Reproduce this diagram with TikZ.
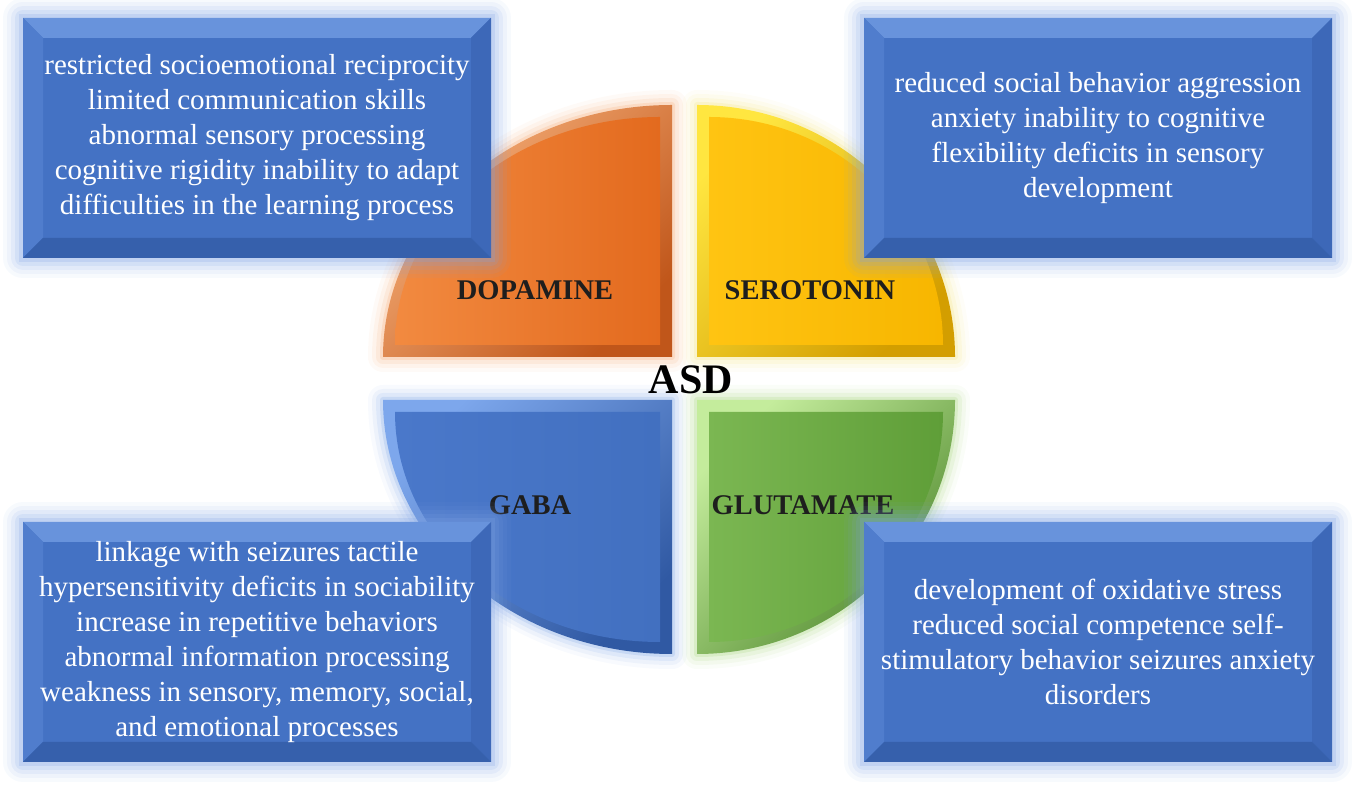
\documentclass[tikz,border=0pt]{standalone}
\usepackage{fontspec}
\setmainfont{Liberation Serif}
\newfontfamily\bodyfont{Liberation Serif}
\usetikzlibrary{positioning}
% box colours
\definecolor{boxblue}{HTML}{4472C4}
\definecolor{boxglow}{HTML}{7FA3E4}
\definecolor{boxhi}{HTML}{6893DC}
\definecolor{boxlf}{HTML}{507DCD}
\definecolor{boxrt}{HTML}{3D68B8}
\definecolor{boxlo}{HTML}{3660AC}
\definecolor{labelgray}{HTML}{1E1E1E}
% quadrant colours
\definecolor{glowdopa}{HTML}{F4A062}
\definecolor{hidopa}{HTML}{F8B27C}
\definecolor{lodopa}{HTML}{C0561A}
\definecolor{adopa}{HTML}{F28A40}
\definecolor{bdopa}{HTML}{E36A1E}
\definecolor{glowsero}{HTML}{F2E070}
\definecolor{hisero}{HTML}{FFE640}
\definecolor{losero}{HTML}{D39E00}
\definecolor{asero}{HTML}{FFC412}
\definecolor{bsero}{HTML}{F7B600}
\definecolor{glowgaba}{HTML}{6F9BE3}
\definecolor{higaba}{HTML}{7DA7EC}
\definecolor{logaba}{HTML}{3059A3}
\definecolor{agaba}{HTML}{4A78CA}
\definecolor{bgaba}{HTML}{4270C0}
\definecolor{glowglut}{HTML}{9CCF6E}
\definecolor{higlut}{HTML}{C4EC9C}
\definecolor{loglut}{HTML}{4C862A}
\definecolor{aglut}{HTML}{7BB752}
\definecolor{bglut}{HTML}{5F9E38}

\newcommand\bevelbox[1]{%
  \fill[boxhi] (#1.north west) -- (#1.north east) -- ([shift={(-20,-20)}]#1.north east) -- ([shift={(20,-20)}]#1.north west) -- cycle;
  \fill[boxlf] (#1.north west) -- ([shift={(20,-20)}]#1.north west) -- ([shift={(20,20)}]#1.south west) -- (#1.south west) -- cycle;
  \fill[boxrt] (#1.north east) -- ([shift={(-20,-20)}]#1.north east) -- ([shift={(-20,20)}]#1.south east) -- (#1.south east) -- cycle;
  \fill[boxlo] (#1.south west) -- ([shift={(20,20)}]#1.south west) -- ([shift={(-20,20)}]#1.south east) -- (#1.south east) -- cycle;
}

\begin{document}
\begin{tikzpicture}[x=1pt, y=1pt,
    effectbox/.style={minimum width=468pt, minimum height=240pt, inner sep=0pt,
      fill=boxblue, text=white, align=center, font=\bodyfont\fontsize{29}{35}\selectfont,
      preaction={draw=boxglow, line width=40pt, opacity=0.06, line join=round},
      preaction={draw=boxglow, line width=32pt, opacity=0.08, line join=round},
      preaction={draw=boxglow, line width=24pt, opacity=0.11, line join=round},
      preaction={draw=boxglow, line width=16pt, opacity=0.15, line join=round},
      preaction={draw=boxglow, line width=8pt, opacity=0.22}},
    bevelled/.style={path picture={\bevelbox{path picture bounding box}}},
    quadlabel/.style={font=\fontsize{28.5}{32}\selectfont\bfseries, text=labelgray}]
  \useasboundingbox (0,0) rectangle (1356,789);
  % quadrants
  \foreach \q/\cx/\cy/\rx/\ry/\sa/\ea/\sx/\sy in {dopa/672/432/289/252/180/90/-1/1, sero/697/432/258/252/0/90/1/1, gaba/672/389/289/254/180/270/-1/-1, glut/697/389/258/254/360/270/1/-1}{
    \foreach \w/\o in {30/0.05, 22/0.08, 14/0.12, 6/0.2}
      \draw[glow\q, line width=\w pt, opacity=\o, line join=round]
        (\cx,\cy) -- ++({\rx*cos(\sa)},{\ry*sin(\sa)}) arc[start angle=\sa, end angle=\ea, x radius=\rx, y radius=\ry] -- cycle;
    \shade[top color=hi\q, bottom color=lo\q, shading angle=45]
      (\cx,\cy) -- ++({\rx*cos(\sa)},{\ry*sin(\sa)}) arc[start angle=\sa, end angle=\ea, x radius=\rx, y radius=\ry] -- cycle;
    \shade[left color=a\q, right color=b\q]
      ({\cx+(\sx)*12}, {\cy+(\sy)*12}) -- ++({(\rx-24)*cos(\sa)},{(\ry-24)*sin(\sa)})
        arc[start angle=\sa, end angle=\ea, x radius={\rx-24}, y radius={\ry-24}] -- cycle;
  }
  \node[quadlabel] (dopa) at (535,499) {DOPAMINE};
  \node[quadlabel] (sero) at (810,499) {SEROTONIN};
  \node[quadlabel] (gaba) at (530,284) {GABA};
  \node[quadlabel] (glut) at (803,284) {GLUTAMATE};
  \node[font=\fontsize{42}{46}\selectfont\bfseries, text=black] (asd) at (691,409) {ASD};
  % effect boxes
  \node[effectbox, bevelled] (dopabox) at (257,651) {restricted socioemotional reciprocity\\limited communication skills\\abnormal sensory processing\\cognitive rigidity inability to adapt\\difficulties in the learning process};
  \node[effectbox, bevelled] (serobox) at (1098,651) {reduced social behavior aggression\\anxiety inability to cognitive\\flexibility deficits in sensory\\development};
  \node[effectbox, bevelled] (gababox) at (257,147) {linkage with seizures tactile\\hypersensitivity deficits in sociability\\increase in repetitive behaviors\\abnormal information processing\\weakness in sensory, memory, social,\\and emotional processes};
  \node[effectbox, bevelled] (glutbox) at (1098,147) {development of oxidative stress\\reduced social competence self-\\stimulatory behavior seizures anxiety\\disorders};
\end{tikzpicture}
\end{document}
